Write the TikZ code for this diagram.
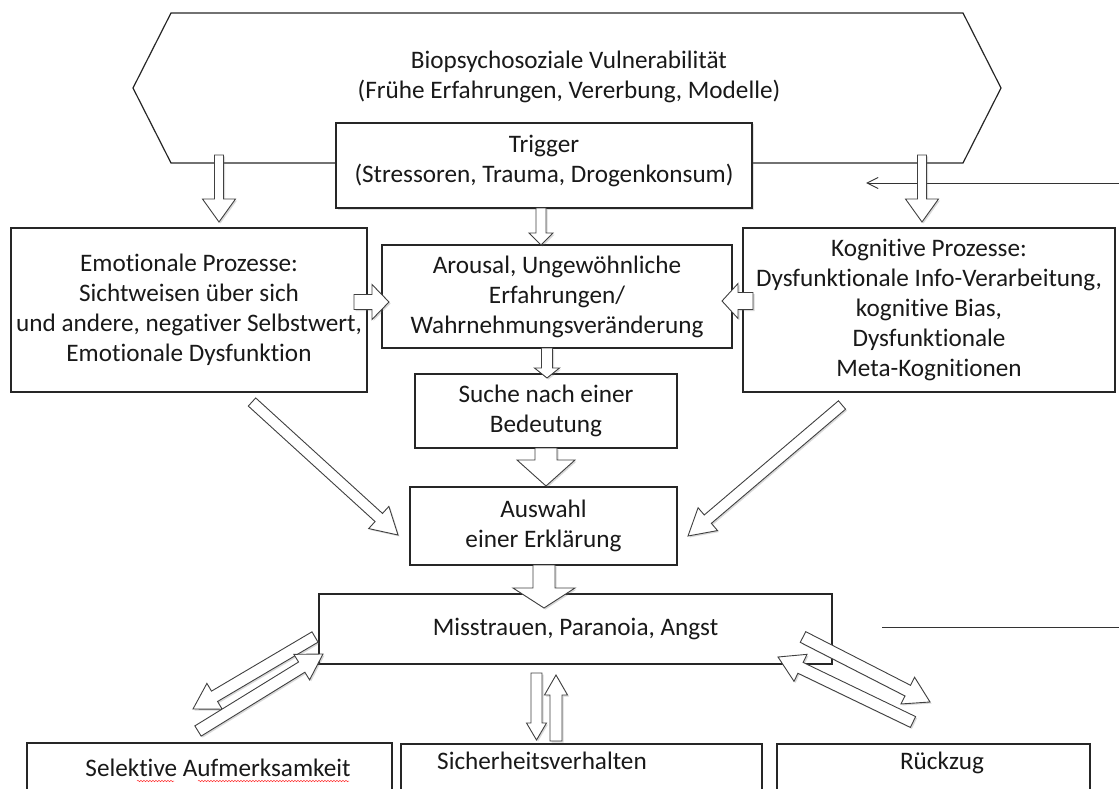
\documentclass[tikz,border=0pt]{standalone}
\usepackage{fontspec}
\setmainfont{Carlito}[Ligatures=NoCommon]
\usetikzlibrary{calc,shadows,arrows.meta,decorations.pathmorphing}
\newcommand\txtfont{\fontsize{25.2pt}{30pt}\selectfont}
\tikzset{
  box/.style={draw=black!85, line width=1.2pt, fill=white, inner sep=0pt, align=center, font=\txtfont, text=black!90},
  lbl/.style={inner sep=0pt, align=center, font=\txtfont, text=black!90},
  hexstyle/.style={draw=black!85, line width=1.2pt, line join=miter},
  barrowstyle/.style={draw=black!75, line width=0.9pt, fill=white, line join=miter,
     drop shadow={shadow xshift=1.5pt, shadow yshift=-1.5pt, opacity=0.25, fill=black!60}},
  thinline/.style={draw=black!80, line width=1pt},
  squiggle/.style={draw=red!80, line width=0.5pt, decorate, decoration={snake, amplitude=0.7pt, segment length=3pt}},
}
% block arrow: #1 tail coord, #2 tip coord, #3 shaft half width, #4 head half width, #5 head length
\newcommand\barrow[5]{%
  \coordinate (#2-base) at ($(#2)!#5!(#1)$);
  \draw[barrowstyle] ($(#1)!#3!90:(#2)$) -- ($(#2-base)!#3!-90:(#1)$) -- ($(#2-base)!#4!-90:(#1)$) -- (#2)
     -- ($(#2-base)!#4!90:(#1)$) -- ($(#2-base)!#3!90:(#1)$) -- ($(#1)!#3!-90:(#2)$) -- cycle;
}
\begin{document}
\begin{tikzpicture}[x=1pt, y=-1pt]
\useasboundingbox (0,0) rectangle (1119,789);
\clip (0,0) rectangle (1119,789);

% hexagon
\draw[hexstyle] (171,13) -- (963,13) -- (1001,88) -- (963,163) -- (171,163) -- (133,88) -- cycle;
\node[lbl] (vuln) at (569,77) {Biopsychosoziale Vulnerabilität\\(Frühe Erfahrungen, Vererbung, Modelle)};

% boxes
\node[box, minimum width=416pt, minimum height=85pt,
  drop shadow={shadow xshift=1.5pt, shadow yshift=-1.5pt, opacity=0.2, fill=black!60}] (trig) at (544,165.5) {};
\node[lbl] (trigtxt) at (544,161) {Trigger\\(Stressoren, Trauma, Drogenkonsum)};

\node[box, minimum width=356pt, minimum height=164pt] (emo) at (189,310)
  {Emotionale Prozesse:\\Sichtweisen über sich\\und andere, negativer Selbstwert,\\Emotionale Dysfunktion};
\node[box, minimum width=350pt, minimum height=103pt] (arou) at (557,296.5)
  {Arousal, Ungewöhnliche\\Erfahrungen/\\Wahrnehmungsveränderung};
\node[box, minimum width=372pt, minimum height=164pt] (kog) at (929,310)
  {Kognitive Prozesse:\\Dysfunktionale Info-Verarbeitung,\\kognitive Bias,\\Dysfunktionale\\Meta-Kognitionen};
\node[box, minimum width=262pt, minimum height=74pt] (suche) at (546,411) {Suche nach einer\\Bedeutung};
\node[box, minimum width=267pt, minimum height=78pt] (ausw) at (543.5,526) {Auswahl\\einer Erklärung};
\node[box, minimum width=513pt, minimum height=70pt] (miss) at (575.5,629) {Misstrauen, Paranoia, Angst};

\node[box, minimum width=365pt, minimum height=77pt] (sel) at (209.5,781.5) {};
\node[box, minimum width=361pt, minimum height=76pt] (sich) at (581.5,782) {};
\node[box, minimum width=313pt, minimum height=76pt] (rueck) at (933.5,782) {};
\node[lbl] (seltxt) at (218,768) {Selektive Aufmerksamkeit};
\node[lbl, anchor=west] (sichtxt) at (437,761) {Sicherheitsverhalten};
\node[lbl] (rtxt) at (942,763) {Rückzug};

% spell-check squiggles
\coordinate (sq1a) at (137,781); \coordinate (sq1b) at (174,781);
\coordinate (sq2a) at (198,781); \coordinate (sq2b) at (349,781);
\draw[squiggle] (sq1a) -- (sq1b);
\draw[squiggle] (sq2a) -- (sq2b);

% feedback lines on the right
\coordinate (fbA1) at (1119,183); \coordinate (fbA2) at (866,183);
\draw[thinline, -{Straight Barb[length=11pt, width=11pt, line width=1pt]}] (fbA1) -- (fbA2);
\coordinate (fbB1) at (882,627); \coordinate (fbB2) at (1119,627);
\draw[thinline] (fbB1) -- (fbB2);

% block arrows
\coordinate (vL1) at (219,155); \coordinate (vL2) at (219,222);
\barrow{vL1}{vL2}{4.5pt}{16.5pt}{23pt}
\coordinate (vR1) at (922,155); \coordinate (vR2) at (922,222);
\barrow{vR1}{vR2}{4.5pt}{16.5pt}{23pt}
\coordinate (t1) at (541,208); \coordinate (t2) at (541,245);
\barrow{t1}{t2}{5pt}{12pt}{12pt}
\coordinate (a1) at (547,348); \coordinate (a2) at (547,378);
\barrow{a1}{a2}{5.5pt}{12.5pt}{10pt}
\coordinate (s1) at (546,448); \coordinate (s2) at (546,486);
\barrow{s1}{s2}{11pt}{29pt}{26pt}
\coordinate (x1) at (544,565); \coordinate (x2) at (544,608);
\barrow{x1}{x2}{11pt}{31pt}{20pt}
\coordinate (e1) at (354,302); \coordinate (e2) at (389,302);
\barrow{e1}{e2}{7.5pt}{17.5pt}{17pt}
\coordinate (k1) at (753,301); \coordinate (k2) at (722,301);
\barrow{k1}{k2}{8.5pt}{17.5pt}{16pt}
\coordinate (ed1) at (252,402); \coordinate (ed2) at (398,535);
\barrow{ed1}{ed2}{5.5pt}{15pt}{26pt}
\coordinate (kd1) at (842,405); \coordinate (kd2) at (688,536);
\barrow{kd1}{kd2}{5.5pt}{15pt}{26pt}
\coordinate (ma1) at (315,637); \coordinate (ma2) at (193,709);
\barrow{ma1}{ma2}{6pt}{15pt}{25pt}
\coordinate (mb1) at (198,731); \coordinate (mb2) at (323,654);
\barrow{mb1}{mb2}{6pt}{15pt}{25pt}
\coordinate (mc1) at (803,637); \coordinate (mc2) at (930,702);
\barrow{mc1}{mc2}{6pt}{15pt}{25pt}
\coordinate (md1) at (913,722); \coordinate (md2) at (778,657);
\barrow{md1}{md2}{6pt}{15pt}{25pt}
\coordinate (sd1) at (536.5,673); \coordinate (sd2) at (536.5,740);
\barrow{sd1}{sd2}{5.5pt}{10pt}{17pt}
\coordinate (su1) at (556,741); \coordinate (su2) at (556,675);
\barrow{su1}{su2}{6pt}{11.5pt}{20pt}
\end{tikzpicture}
\end{document}
